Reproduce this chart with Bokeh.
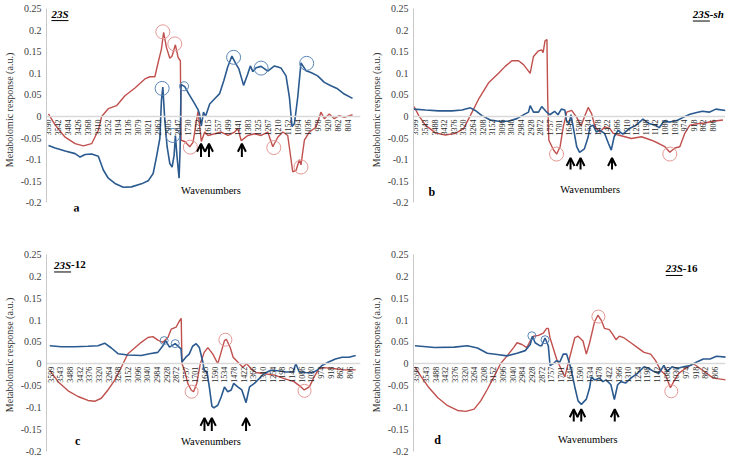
import numpy as np
from bokeh.plotting import figure
from bokeh.layouts import gridplot
from bokeh.models import (FixedTicker, CustomJSTickFormatter, Label, Arrow,
                          OpenHead, ColumnDataSource, Range1d)
from bokeh.embed import file_html
from bokeh.resources import INLINE

# ---------------- data ----------------
y_ticks = [-0.2, -0.15, -0.1, -0.05, 0, 0.05, 0.1, 0.15, 0.2, 0.25]

a_labels = ["3590", "3542", "3484", "3426", "3368", "3310", "3252", "3194", "3136", "3079",
            "3021", "2963", "2905", "2847", "1730", "1672", "1615", "1557", "1499", "1441",
            "1383", "1325", "1267", "1210", "1152", "1094", "1036", "978", "920", "862", "804"]
bcd_labels = ["3599", "3543", "3488", "3432", "3376", "3320", "3264", "3208", "3152", "3096",
              "3040", "2984", "2928", "2872", "1757", "1701", "1645", "1590", "1534", "1478",
              "1422", "1366", "1310", "1254", "1198", "1142", "1086", "1030", "974", "918",
              "862", "806"]

# panel a (23S)
a_red_x = [0, 0.67, 1.67, 2.67, 3.5, 4.33, 5.0, 5.33, 6.0, 6.83, 7.67, 8.67, 9.67, 10.17, 10.67,
           11.0, 11.33, 11.55, 11.83, 12.17, 12.4, 12.73, 13.0, 13.23, 13.3, 13.67, 14.17, 14.5,
           15.0, 15.33, 15.67, 16.0, 16.67, 17.33, 18.0, 18.67, 19.0, 19.33, 20.0, 20.67, 21.33,
           22.0, 22.5, 23.0, 23.5, 24.0, 24.5, 24.83, 25.17, 25.33, 25.67, 26.17, 26.83, 27.33,
           27.67, 28.17, 28.67, 29.17, 29.67, 30.5]
a_red_y = [0.006, -0.02, -0.048, -0.063, -0.068, -0.063, -0.032, 0.0, 0.018, 0.025, 0.048, 0.066,
           0.087, 0.092, 0.092, 0.125, 0.156, 0.195, 0.16, 0.135, 0.14, 0.166, 0.137, 0.129,
           -0.055, -0.058, -0.07, -0.06, 0.012, -0.058, -0.036, -0.044, -0.04, -0.036, -0.044,
           -0.036, -0.028, -0.056, -0.044, -0.04, -0.044, -0.036, -0.07, -0.048, -0.036, -0.044,
           -0.128, -0.125, -0.1, -0.112, -0.055, -0.036, -0.025, 0.01, -0.005, 0.006, -0.005,
           0.002, -0.002, 0.004]
a_blue_x = [0, 0.67, 1.67, 2.67, 3.17, 3.67, 4.33, 5.0, 5.5, 6.0, 6.67, 7.5, 8.33, 9.33, 10.0,
            10.5, 10.83, 11.17, 11.33, 11.47, 11.67, 11.9, 12.17, 12.4, 12.6, 12.73, 12.9, 13.1,
            13.2, 13.3, 13.67, 14.1, 14.6, 15.0, 15.15, 15.33, 15.55, 15.75, 16.17, 16.67, 17.17,
            17.6, 17.97, 18.4, 18.8, 19.1, 19.35, 19.57, 19.97, 20.25, 20.5, 20.83, 21.33, 22.0,
            22.67, 23.33, 23.83, 24.17, 24.43, 24.67, 25.0, 25.33, 25.83, 26.33, 27.0, 27.67,
            28.33, 29.0, 29.67, 30.5]
a_blue_y = [-0.067, -0.073, -0.08, -0.086, -0.094, -0.088, -0.087, -0.092, -0.124, -0.143, -0.155,
            -0.164, -0.163, -0.156, -0.149, -0.132, -0.094, -0.051, 0.037, 0.068, -0.009, -0.07,
            -0.109, -0.117, -0.09, -0.044, -0.094, -0.143, -0.078, 0.074, 0.069, 0.051, 0.032,
            0.016, 0.006, -0.022, 0.01, 0.0, 0.029, 0.041, 0.053, 0.084, 0.114, 0.14, 0.122, 0.11,
            0.09, 0.072, 0.097, 0.117, 0.104, 0.113, 0.116, 0.105, 0.117, 0.112, 0.094, 0.044,
            -0.023, -0.017, 0.044, 0.124, 0.106, 0.102, 0.094, 0.079, 0.071, 0.064, 0.052, 0.042]
a_red_circ_x = [11.47, 12.67, 14.23, 22.6, 25.33]
a_red_circ_y = [0.196, 0.168, -0.071, -0.072, -0.117]
a_blue_circ_x = [11.4, 18.57, 21.33, 25.9, 12.47]
a_blue_circ_y = [0.065, 0.137, 0.112, 0.123, -0.044]
a_blue_small_x = [13.6]
a_blue_small_y = [0.07]
a_arrow_x = [15.3, 16.1, 19.4]
a_arrow_tip, a_arrow_base = -0.063, -0.094

# panel b (23S-sh)
b_red_x = [-0.15, 0.35, 1.04, 2.08, 3.12, 4.16, 5.02, 5.72, 6.58, 7.62, 8.66, 9.35, 10.05, 10.74,
           11.26, 11.78, 11.95, 12.3, 12.82, 13.16, 13.3, 13.5, 13.7, 13.78, 13.9, 14.37, 14.72,
           15.07, 15.4, 15.76, 16.28, 16.8, 17.25, 17.66, 18.0, 18.36, 18.7, 19.22, 19.74, 20.26,
           20.6, 21.13, 21.82, 22.5, 23.55, 24.6, 25.3, 25.98, 26.5, 27.02, 27.54, 28.06, 28.58,
           29.27, 30.14, 31.0, 32.04]
b_red_y = [0.023, 0.002, -0.02, -0.038, -0.043, -0.039, -0.028, 0.002, 0.04, 0.078, 0.1, 0.116,
           0.129, 0.129, 0.12, 0.105, 0.1, 0.139, 0.152, 0.154, 0.148, 0.175, 0.178, 0.04, -0.055,
           -0.077, -0.087, -0.07, -0.024, 0.01, 0.014, -0.002, -0.022, 0.002, 0.021, 0.006, -0.024,
           -0.036, -0.024, -0.028, -0.039, -0.043, -0.047, -0.051, -0.047, -0.055, -0.062, -0.07,
           -0.083, -0.073, -0.07, -0.039, -0.02, -0.017, -0.015, -0.011, -0.008]
b_blue_x = [-0.15, 1.04, 2.42, 3.81, 4.85, 5.72, 6.23, 6.93, 7.8, 8.66, 9.7, 10.57, 11.43, 11.78,
            11.95, 12.3, 12.82, 13.16, 13.68, 14.0, 14.5, 14.85, 15.2, 15.57, 15.73, 16.0, 16.2,
            16.4, 16.8, 17.1, 17.6, 18.0, 18.17, 18.5, 18.85, 19.2, 19.7, 20.1, 20.4, 20.7, 21.1,
            21.6, 22.3, 23.0, 23.7, 24.4, 25.0, 25.4, 25.9, 26.4, 27.2, 27.9, 28.6, 29.3, 29.9,
            30.6, 31.3, 32.3]
b_blue_y = [0.017, 0.015, 0.013, 0.013, 0.015, 0.02, 0.014, 0.002, -0.008, -0.011, -0.011, -0.005,
            0.006, 0.01, 0.025, 0.01, 0.01, 0.023, 0.01, 0.004, 0.012, 0.004, 0.017, 0.015, -0.009,
            -0.017, 0.004, -0.02, -0.07, -0.083, -0.075, -0.047, -0.024, -0.02, -0.036, -0.032,
            -0.039, -0.062, -0.078, -0.047, -0.032, -0.041, -0.028, -0.02, -0.006, -0.017, -0.02,
            -0.026, -0.01, -0.013, -0.01, -0.002, 0.005, 0.009, 0.012, 0.01, 0.017, 0.014]
b_red_circ_x = [14.7, 26.5]
b_red_circ_y = [-0.087, -0.087]
b_arrow_x = [16.16, 17.2, 20.48]
b_arrow_tip, b_arrow_base = -0.096, -0.123

# panel c (23S-12)
c_red_x = [-0.1, 0.76, 1.8, 2.83, 3.86, 4.55, 5.24, 5.93, 6.62, 7.31, 8.0, 8.69, 9.38, 10.07,
           10.59, 11.1, 11.62, 12.14, 12.48, 13.0, 13.34, 13.52, 13.6, 13.86, 14.2, 14.55, 14.8,
           15.13, 15.5, 15.9, 16.28, 16.8, 17.31, 17.6, 18.0, 18.2, 18.6, 18.9, 19.38, 19.9, 20.3,
           20.75, 21.27, 22.1, 23.2, 24.2, 25.2, 25.93, 26.27, 26.8, 27.3, 27.8, 28.3, 29.3, 30.3,
           31.6]
c_red_y = [-0.015, -0.041, -0.062, -0.075, -0.084, -0.086, -0.079, -0.06, -0.038, -0.008, 0.023,
           0.036, 0.049, 0.06, 0.062, 0.054, 0.049, 0.06, 0.079, 0.084, 0.098, 0.104, 0.0, -0.015,
           -0.045, -0.06, -0.064, -0.045, 0.0, 0.026, 0.037, 0.022, 0.0, 0.022, 0.053, 0.056,
           0.037, 0.015, 0.004, -0.008, 0.0, -0.011, -0.02, -0.023, -0.026, -0.034, -0.041,
           -0.053, -0.06, -0.053, -0.03, -0.011, -0.009, -0.011, -0.014, -0.014]
c_blue_x = [-0.1, 1.1, 2.48, 3.86, 4.9, 5.59, 6.28, 6.97, 8.0, 9.38, 10.24, 11.1, 11.62, 11.9,
            12.31, 12.9, 13.5, 13.6, 14.0, 14.35, 14.7, 15.07, 15.4, 15.76, 15.9, 16.2, 16.45,
            16.7, 16.9, 17.31, 17.66, 18.0, 18.34, 18.7, 18.96, 19.38, 19.8, 20.24, 20.6, 21.1,
            21.6, 22.1, 22.8, 23.5, 24.4, 25.1, 25.4, 25.75, 26.4, 27.1, 27.6, 28.1, 28.8, 29.5,
            30.2, 30.9, 31.6]
c_blue_y = [0.041, 0.039, 0.039, 0.04, 0.041, 0.047, 0.036, 0.023, 0.02, 0.019, 0.023, 0.026,
            0.041, 0.053, 0.038, 0.046, 0.034, 0.004, 0.015, 0.022, 0.04, 0.046, 0.037, 0.004,
            -0.015, -0.019, -0.056, -0.097, -0.101, -0.095, -0.076, -0.053, -0.064, -0.06, -0.045,
            -0.053, -0.06, -0.089, -0.053, -0.045, -0.034, -0.023, -0.015, -0.016, -0.019, -0.019,
            0.0, -0.019, -0.02, -0.021, -0.015, -0.004, 0.004, 0.011, 0.015, 0.015, 0.019]
c_red_circ_x = [14.6, 18.1, 26.3]
c_red_circ_y = [-0.064, 0.055, -0.062]
c_blue_small_x = [11.75, 12.9]
c_blue_small_y = [0.053, 0.046]
c_arrow_x = [15.93, 16.69, 20.24]
c_arrow_tip, c_arrow_base = -0.124, -0.154

# panel d (23S-16)
d_red_x = [-0.15, 0.51, 1.2, 2.23, 3.25, 4.28, 5.14, 6.0, 6.68, 7.36, 8.05, 8.73, 9.42, 10.1,
           10.45, 10.96, 11.47, 11.82, 12.16, 12.67, 13.18, 13.53, 13.7, 13.88, 14.56, 15.08,
           15.42, 15.93, 16.44, 16.79, 17.3, 17.65, 17.99, 18.5, 18.85, 19.19, 19.53, 20.04,
           20.39, 20.73, 21.07, 21.58, 22.27, 22.96, 23.64, 24.33, 24.84, 25.35, 25.87, 26.38,
           26.72, 27.24, 28.1, 28.78, 29.47, 30.15, 30.83, 32.2]
d_red_y = [-0.007, -0.03, -0.052, -0.078, -0.096, -0.107, -0.109, -0.104, -0.085, -0.059, -0.03,
           0.0, 0.018, 0.037, 0.048, 0.044, 0.037, 0.052, 0.063, 0.065, 0.07, 0.081, 0.081, 0.059,
           0.011, -0.015, -0.03, 0.015, 0.059, 0.063, 0.052, 0.022, 0.048, 0.096, 0.111, 0.1,
           0.081, 0.078, 0.067, 0.055, 0.063, 0.059, 0.048, 0.037, 0.026, 0.022, 0.007, -0.015,
           -0.026, -0.055, -0.041, -0.022, -0.008, 0.0, -0.011, -0.022, -0.033, -0.037]
d_blue_x = [-0.15, 1.88, 3.94, 5.3, 6.34, 7.36, 8.39, 9.42, 10.45, 11.3, 11.82, 12.05, 12.33,
            12.84, 13.0, 13.36, 13.7, 13.88, 14.2, 14.56, 14.9, 15.25, 15.6, 15.76, 16.1, 16.44,
            16.79, 17.13, 17.65, 17.99, 18.16, 18.5, 19.0, 19.36, 19.7, 20.2, 20.56, 20.9, 21.24,
            21.75, 22.27, 22.96, 23.64, 24.15, 24.67, 25.18, 25.7, 26.04, 26.55, 27.07, 27.75,
            28.44, 29.12, 29.8, 30.49, 31.17, 32.2]
d_blue_y = [0.041, 0.037, 0.038, 0.041, 0.036, 0.024, 0.021, 0.018, 0.024, 0.03, 0.044, 0.063,
            0.048, 0.041, 0.041, 0.059, 0.041, -0.004, 0.0, 0.007, 0.004, 0.022, 0.022, 0.011,
            -0.015, -0.052, -0.085, -0.093, -0.081, -0.055, -0.03, -0.037, -0.033, -0.041, -0.037,
            -0.048, -0.082, -0.048, -0.041, -0.044, -0.033, -0.022, -0.007, -0.011, -0.018,
            -0.022, -0.004, -0.018, -0.007, -0.011, -0.007, -0.004, 0.004, 0.011, 0.011, 0.017,
            0.015]
d_red_circ_x = [18.9, 26.47]
d_red_circ_y = [0.108, -0.063]
d_blue_small_x = [11.99, 13.36]
d_blue_small_y = [0.064, 0.055]
d_arrow_x = [16.34, 17.12, 20.6]
d_arrow_tip, d_arrow_base = -0.104, -0.132

# ---------------- styling ----------------
SERIF = "Liberation Serif"
RED = "#c0504d"
BLUE = "#2a5a8f"
RED_C = "#e59995"
BLUE_C = "#5a86b8"
H = 230


def make_panel(labels, width, left, right, top, bottom, xmin, xmax, ymin):
    p = figure(width=width, height=H, output_backend="svg", toolbar_location=None,
               x_range=Range1d(xmin, xmax), y_range=Range1d(ymin, 0.25),
               min_border_left=left, min_border_right=right,
               min_border_top=top, min_border_bottom=bottom)
    p.outline_line_color = None
    p.grid.visible = False
    p.background_fill_color = "white"
    p._ppx = (width - left - right) / (xmax - xmin)
    # y axis
    ya = p.yaxis[0]
    ya.bounds = (-0.2, 0.25)
    ya.ticker = FixedTicker(ticks=y_ticks)
    ya.formatter = CustomJSTickFormatter(code="return (Math.round(tick*100)/100).toString();")
    ya.axis_label = "Metabolomic response (a.u.)"
    ya.axis_label_text_font = SERIF
    ya.axis_label_text_font_style = "normal"
    ya.axis_label_text_font_size = "10px"
    ya.axis_label_text_color = "#333333"
    ya.axis_label_standoff = 3
    ya.major_label_text_font = SERIF
    ya.major_label_text_font_size = "10px"
    ya.major_label_text_color = "#404040"
    ya.major_label_standoff = 5
    ya.major_tick_out = 0
    ya.major_tick_in = 0
    ya.minor_tick_out = 0
    ya.minor_tick_in = 0
    ya.axis_line_color = "#c8c8c8"
    ya.major_tick_line_color = None
    ya.minor_tick_line_color = None
    # x axis at zero
    xa = p.xaxis[0]
    xa.fixed_location = 0
    xa.ticker = FixedTicker(ticks=list(range(len(labels))))
    xa.major_label_overrides = {i: lab for i, lab in enumerate(labels)}
    xa.major_label_orientation = np.pi / 2
    xa.major_label_text_font = SERIF
    xa.major_label_text_font_size = "8px"
    xa.major_label_text_color = "#262626"
    xa.major_label_standoff = 3
    xa.major_tick_out = 0
    xa.major_tick_in = 0
    xa.minor_tick_out = 0
    xa.minor_tick_in = 0
    xa.axis_line_color = "#d9d9d9"
    xa.axis_line_width = 1.5
    xa.major_tick_line_color = None
    xa.minor_tick_line_color = None
    return p


def add_series(p, rx, ry, bx, by):
    p.line(rx, ry, line_color=RED, line_width=1.4)
    p.line(bx, by, line_color=BLUE, line_width=1.6)


def add_circles(p, x, y, color, size):
    p.scatter(x, y, size=size, marker="circle", fill_color=None,
              line_color=color, line_width=1)


def add_arrows(p, xs, tip, base):
    src = ColumnDataSource(dict(x0=xs, x1=xs, y0=[base] * len(xs), y1=[tip] * len(xs)))
    p.add_layout(Arrow(x_start="x0", y_start="y0", x_end="x1", y_end="y1", source=src,
                       line_width=2, line_color="black",
                       end=OpenHead(size=8, line_width=2, line_color="black")))


def add_text(p, x, y, text, size="11px", style="normal", align="left"):
    p.add_layout(Label(x=x, y=y, text=text, text_font=SERIF, text_font_size=size,
                       text_font_style=style, text_align=align, text_baseline="middle",
                       text_color="black"))


def add_title(p, x, y, main, rest, rest_style):
    add_text(p, x, y, main, size="11px", style="bold italic")
    w_main = 17.0 / p._ppx
    if rest:
        p.add_layout(Label(x=x, y=y, x_offset=17, text=rest, text_font=SERIF,
                           text_font_size="11px", text_font_style=rest_style,
                           text_baseline="middle", text_color="black"))
    p.segment(x0=[x], x1=[x + w_main], y0=[y - 0.016], y1=[y - 0.016],
              line_color="black", line_width=1)


# panel a
pa = make_panel(a_labels, 364, 45, 4, 8, 19, -0.2, 31.3, -0.22)
add_series(pa, a_red_x, a_red_y, a_blue_x, a_blue_y)
add_circles(pa, a_red_circ_x, a_red_circ_y, RED_C, 14)
add_circles(pa, a_blue_circ_x, a_blue_circ_y, BLUE_C, 14)
add_circles(pa, a_blue_small_x, a_blue_small_y, BLUE_C, 9)
add_arrows(pa, a_arrow_x, a_arrow_tip, a_arrow_base)
add_title(pa, 0.3, 0.238, "23S", "", "bold")
add_text(pa, 16.3, -0.172, "Wavenumbers", size="10.5px", align="center")
add_text(pa, 2.8, -0.211, "a", size="12px", style="bold", align="center")

# panel b
pb = make_panel(bcd_labels, 365, 49, 4, 6, 17, -0.2, 32.3, -0.22)
add_series(pb, b_red_x, b_red_y, b_blue_x, b_blue_y)
add_circles(pb, b_red_circ_x, b_red_circ_y, RED_C, 14)
add_arrows(pb, b_arrow_x, b_arrow_tip, b_arrow_base)
add_title(pb, 28.9, 0.237, "23S", "-sh", "bold italic")
add_text(pb, 18.2, -0.168, "Wavenumbers", size="10.5px", align="center")
add_text(pb, 1.7, -0.175, "b", size="12px", style="bold", align="center")

# panel c
pc = make_panel(bcd_labels, 364, 45, 4, 24, 5, -0.44, 32.1, -0.21)
add_series(pc, c_red_x, c_red_y, c_blue_x, c_blue_y)
add_circles(pc, c_red_circ_x, c_red_circ_y, RED_C, 13)
add_circles(pc, c_blue_small_x, c_blue_small_y, BLUE_C, 8)
add_arrows(pc, c_arrow_x, c_arrow_tip, c_arrow_base)
add_title(pc, 0.35, 0.226, "23S", "-12", "bold")
add_text(pc, 16.6, -0.177, "Wavenumbers", size="10.5px", align="center")
add_text(pc, 2.8, -0.177, "c", size="12px", style="bold", align="center")

# panel d
pd = make_panel(bcd_labels, 365, 46, 4, 21, 2, -0.3, 32.1, -0.21)
add_series(pd, d_red_x, d_red_y, d_blue_x, d_blue_y)
add_circles(pd, d_red_circ_x, d_red_circ_y, RED_C, 13)
add_circles(pd, d_blue_small_x, d_blue_small_y, BLUE_C, 8)
add_arrows(pd, d_arrow_x, d_arrow_tip, d_arrow_base)
add_title(pd, 25.9, 0.218, "23S", "-16", "bold")
add_text(pd, 17.8, -0.174, "Wavenumbers", size="10.5px", align="center")
add_text(pd, 2.2, -0.174, "d", size="12px", style="bold", align="center")

grid = gridplot([[pa, pb], [pc, pd]], toolbar_location=None)
open("out.html", "w").write(file_html(grid, INLINE))
